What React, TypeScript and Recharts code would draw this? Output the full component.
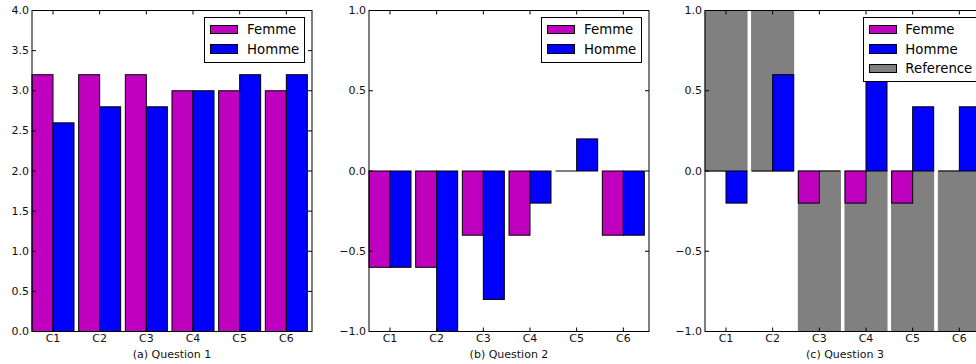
import React from 'react';
import { BarChart, Bar, XAxis, YAxis, Legend } from 'recharts';

const categories = ['C1', 'C2', 'C3', 'C4', 'C5', 'C6'];

const q1Femme = [3.2, 3.2, 3.2, 3.0, 3.0, 3.0];
const q1Homme = [2.6, 2.8, 2.8, 3.0, 3.2, 3.2];

const q2Femme = [-0.6, -0.6, -0.4, -0.4, 0, -0.4];
const q2Homme = [-0.6, -1.0, -0.8, -0.2, 0.2, -0.4];

const q3Femme = [0, 0, -0.2, -0.2, -0.2, 0];
const q3Homme = [-0.2, 0.6, 0, 0.6, 0.4, 0.4];
const q3Reference = [1, 1, -1, -1, -1, -1];

const q1Ticks = [0, 0.5, 1, 1.5, 2, 2.5, 3, 3.5, 4];
const q23Ticks = [-1, -0.5, 0, 0.5, 1];

const titles = ['(a) Question 1', '(b) Question 2', '(c) Question 3'];
const legendOrder = ['Femme', 'Homme', 'Reference'];

const COLORS: Record<string, string> = {
  Femme: '#bf00bf',
  Homme: '#0000ff',
  Reference: '#808080',
};

const FONT = '"DejaVu Sans", sans-serif';
const PANEL_W = 330;
const PANEL_H = 364;
const PLOT_L = 40;
const PLOT_W = 280;
const PLOT_T = 10.5;
const PLOT_H = 321;
const AXIS_SIZE = 1;
const SHIFT = PLOT_W / categories.length * 0.05;

const fmt = (v: number) => {
  const s = Math.abs(v).toFixed(1);
  return v < 0 ? '\u2212' + s : s;
};

const BarShape = (props: any) => {
  let { x, y, width, height, fill, stroke } = props;
  if (height < 0) { y = y + height; height = -height; }
  if (width < 0) { x = x + width; width = -width; }
  if (!height) {
    return <line x1={x} x2={x + width} y1={y} y2={y} stroke="#000" strokeWidth={1} />;
  }
  return <rect x={x} y={y} width={width} height={height} fill={fill} stroke={stroke} strokeWidth={1} />;
};

const XTick = (props: any) => {
  const { x, payload } = props;
  const bottom = PLOT_T + PLOT_H;
  return (
    <g>
      <line x1={x} x2={x} y1={bottom} y2={bottom - 4} stroke="#000" strokeWidth={1} />
      <line x1={x} x2={x} y1={PLOT_T} y2={PLOT_T + 4} stroke="#000" strokeWidth={1} />
      <text x={x} y={338} textAnchor="middle" dominantBaseline="central" fontFamily={FONT} fontSize={11} fill="#111">
        {payload.value}
      </text>
    </g>
  );
};

const YTick = (props: any) => {
  const { y, payload } = props;
  const right = PLOT_L + PLOT_W;
  return (
    <g>
      <line x1={PLOT_L} x2={PLOT_L + 4} y1={y} y2={y} stroke="#000" strokeWidth={1} />
      <line x1={right} x2={right - 4} y1={y} y2={y} stroke="#000" strokeWidth={1} />
      <text x={PLOT_L - 3} y={y} textAnchor="end" dominantBaseline="central" fontFamily={FONT} fontSize={11} fill="#111">
        {fmt(payload.value)}
      </text>
    </g>
  );
};

const LegendBox = (props: any) => {
  const payload = [...(props.payload || [])].sort(
    (a: any, b: any) => legendOrder.indexOf(a.value) - legendOrder.indexOf(b.value)
  );
  return (
    <div
      style={{
        border: '1px solid #000',
        background: '#fff',
        padding: '2px 5px 3px 5px',
        fontFamily: FONT,
        fontSize: 13.3,
        color: '#000',
        whiteSpace: 'nowrap',
      }}
    >
      {payload.map((p: any) => (
        <div key={p.value} style={{ display: 'flex', alignItems: 'center', height: 19.4 }}>
          <span
            style={{
              display: 'inline-block',
              width: 28,
              height: 9.5,
              background: COLORS[p.value] || p.color,
              border: '1px solid #000',
              boxSizing: 'border-box',
              marginRight: 8.6,
            }}
          />
          <span>{p.value}</span>
        </div>
      ))}
    </div>
  );
};

type PanelProps = {
  left: number;
  data: any[];
  domain: [number, number];
  ticks: number[];
  title: string;
  withReference?: boolean;
};

const Panel = ({ left, data, domain, ticks, title, withReference }: PanelProps) => (
  <div style={{ position: 'absolute', left, top: 0, width: PANEL_W, height: PANEL_H }}>
    <BarChart
      width={PANEL_W}
      height={PANEL_H}
      data={data}
      barGap={0}
      barCategoryGap="5%"
      margin={{
        top: PLOT_T,
        bottom: PANEL_H - PLOT_T - PLOT_H - AXIS_SIZE,
        left: PLOT_L - SHIFT - AXIS_SIZE,
        right: PANEL_W - PLOT_L - PLOT_W + SHIFT,
      }}
    >
      <XAxis dataKey="cat" height={AXIS_SIZE} axisLine={false} tickLine={false} tick={<XTick />} interval={0} />
      {withReference && <XAxis xAxisId="ref" dataKey="cat" hide />}
      <YAxis
        width={AXIS_SIZE}
        domain={domain}
        ticks={ticks}
        type="number"
        axisLine={false}
        tickLine={false}
        tick={<YTick />}
        interval={0}
        allowDataOverflow
      />
      {withReference && (
        <Bar
          xAxisId="ref"
          dataKey="Reference"
          name="Reference"
          fill={COLORS.Reference}
          stroke="#7a7a7a"
          shape={BarShape}
          isAnimationActive={false}
        />
      )}
      <Bar dataKey="Femme" name="Femme" fill={COLORS.Femme} stroke="#000" shape={BarShape} isAnimationActive={false} />
      <Bar dataKey="Homme" name="Homme" fill={COLORS.Homme} stroke="#000" shape={BarShape} isAnimationActive={false} />
      <Legend
        layout="horizontal"
        verticalAlign="middle"
        align="center"
        content={<LegendBox />}
        wrapperStyle={{ top: 17, right: PANEL_W - (PLOT_L + PLOT_W - 6.7), left: 'auto', width: 'auto', height: 'auto' }}
      />
    </BarChart>
    <svg
      width={PANEL_W}
      height={PANEL_H}
      style={{ position: 'absolute', left: 0, top: 0, pointerEvents: 'none' }}
    >
      <rect x={PLOT_L} y={PLOT_T} width={PLOT_W} height={PLOT_H} fill="none" stroke="#000" strokeWidth={1} />
      <text
        x={PLOT_L + PLOT_W / 2}
        y={354}
        textAnchor="middle"
        dominantBaseline="central"
        fontFamily={FONT}
        fontSize={11}
        fill="#111"
      >
        {title}
      </text>
    </svg>
  </div>
);

const data1 = categories.map((c, i) => ({ cat: c, Femme: q1Femme[i], Homme: q1Homme[i] }));
const data2 = categories.map((c, i) => ({ cat: c, Femme: q2Femme[i], Homme: q2Homme[i] }));
const data3 = categories.map((c, i) => ({ cat: c, Femme: q3Femme[i], Homme: q3Homme[i], Reference: q3Reference[i] }));

export default function App() {
  return (
    <div
      style={{
        position: 'absolute',
        left: 0,
        top: 0,
        width: 976,
        height: 364,
        overflow: 'hidden',
        background: '#fff',
      }}
    >
      <Panel left={32 - PLOT_L} data={data1} domain={[0, 4]} ticks={q1Ticks} title={titles[0]} />
      <Panel left={369 - PLOT_L} data={data2} domain={[-1, 1]} ticks={q23Ticks} title={titles[1]} />
      <Panel left={705 - PLOT_L} data={data3} domain={[-1, 1]} ticks={q23Ticks} title={titles[2]} withReference />
    </div>
  );
}
